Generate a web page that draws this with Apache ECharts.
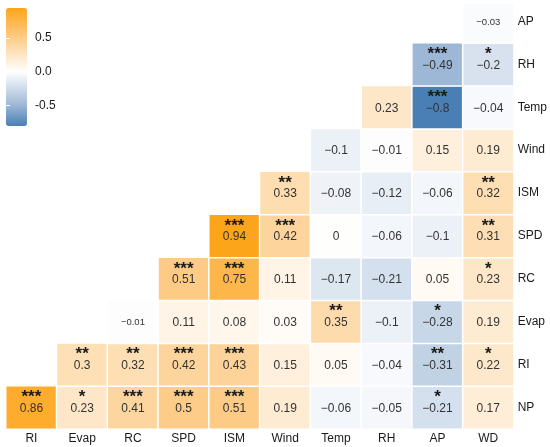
<!DOCTYPE html>
<html>
<head>
<meta charset="utf-8">
<script src="https://cdn.jsdelivr.net/npm/echarts@6/dist/echarts.min.js"></script>
<style>
  html, body { margin: 0; padding: 0; background: #fff; }
  #chart { width: 550px; height: 447px; }
</style>
</head>
<body>
<div id="chart"></div>
<script>
// column and row names (rows listed bottom to top)
const xLabels = ['RI', 'Evap', 'RC', 'SPD', 'ISM', 'Wind', 'Temp', 'RH', 'AP', 'WD'];
const yLabels = ['NP', 'RI', 'Evap', 'RC', 'SPD', 'ISM', 'Wind', 'Temp', 'RH', 'AP'];

// each row starts at the column with the same index as the row
const valuesNP   = [0.86, 0.23, 0.41, 0.5, 0.51, 0.19, -0.06, -0.05, -0.21, 0.17];
const starsNP    = ['***', '*', '***', '***', '***', '', '', '', '*', ''];
const valuesRI   = [0.3, 0.32, 0.42, 0.43, 0.15, 0.05, -0.04, -0.31, 0.22];
const starsRI    = ['**', '**', '***', '***', '', '', '', '**', '*'];
const valuesEvap = [-0.01, 0.11, 0.08, 0.03, 0.35, -0.1, -0.28, 0.19];
const starsEvap  = ['', '', '', '', '**', '', '*', ''];
const valuesRC   = [0.51, 0.75, 0.11, -0.17, -0.21, 0.05, 0.23];
const starsRC    = ['***', '***', '', '', '', '', '*'];
const valuesSPD  = [0.94, 0.42, 0, -0.06, -0.1, 0.31];
const starsSPD   = ['***', '***', '', '', '', '**'];
const valuesISM  = [0.33, -0.08, -0.12, -0.06, 0.32];
const starsISM   = ['**', '', '', '', '**'];
const valuesWind = [-0.1, -0.01, 0.15, 0.19];
const starsWind  = ['', '', '', ''];
const valuesTemp = [0.23, -0.8, -0.04];
const starsTemp  = ['', '***', ''];
const valuesRH   = [-0.49, -0.2];
const starsRH    = ['***', '*'];
const valuesAP   = [-0.03];
const starsAP    = [''];

// colour bar labels
const barTicks = [-0.5, 0, 0.5];

const rows = [
  [valuesNP, starsNP], [valuesRI, starsRI], [valuesEvap, starsEvap],
  [valuesRC, starsRC], [valuesSPD, starsSPD], [valuesISM, starsISM],
  [valuesWind, starsWind], [valuesTemp, starsTemp], [valuesRH, starsRH],
  [valuesAP, starsAP]
];

// cells whose number is printed smaller: [column, row]
const smallCells = ['2,2', '9,9'];

const cellData = [];
const starData = [];
rows.forEach(([vals, stars], r) => {
  vals.forEach((v, k) => {
    const c = r + k;
    cellData.push({ value: [c, r, v], small: smallCells.includes(c + ',' + r) });
    if (stars[k]) starData.push({ value: [c, r, v], stars: stars[k] });
  });
});

// colour scale anchors
const vMin = -0.8, vMax = 0.94;
const anchors = [
  [-0.8, [74, 127, 181]],
  [-0.49, [157, 184, 214]],
  [0, [255, 255, 255]],
  [0.51, [253, 203, 134]],
  [0.94, [253, 165, 26]]
];
function colorAt(v) {
  for (let i = 0; i < anchors.length - 1; i++) {
    const [a, ca] = anchors[i], [b, cb] = anchors[i + 1];
    if (v <= b || i === anchors.length - 2) {
      const t = Math.max(0, Math.min(1, (v - a) / (b - a)));
      const c = ca.map((x, j) => Math.round(x + (cb[j] - x) * t));
      return 'rgb(' + c.join(',') + ')';
    }
  }
}
const stops = [];
for (let i = 0; i <= 60; i++) stops.push(colorAt(vMin + (vMax - vMin) * i / 60));

const fmt = v => String(v).replace('-', '\u2212');
const font = 'Liberation Sans';

const chart = echarts.init(document.getElementById('chart'), null, { renderer: 'canvas' });

chart.setOption({
  animation: false,
  textStyle: { fontFamily: font },
  grid: [
    { left: 6, right: 31, top: -10, bottom: 18 },
    { left: 6, top: 8, width: 21, height: 118 }
  ],
  xAxis: [
    {
      type: 'category', data: xLabels, position: 'bottom',
      axisLine: { show: false }, axisTick: { show: false }, splitLine: { show: false },
      axisLabel: { fontSize: 12, color: '#1a1a1a', margin: 4, fontFamily: font }
    },
    { gridIndex: 1, type: 'value', show: false }
  ],
  yAxis: [
    {
      type: 'category', data: yLabels, position: 'right',
      axisLine: { show: false }, axisTick: { show: false }, splitLine: { show: false },
      axisLabel: { fontSize: 12, color: '#1a1a1a', margin: 4, fontFamily: font }
    },
    {
      gridIndex: 1, type: 'value', min: vMin, max: vMax, position: 'right', z: 10,
      axisLine: { show: false }, splitLine: { show: false },
      axisTick: { show: true, inside: true, length: 4, customValues: barTicks, lineStyle: { color: '#fff', width: 1 } },
      axisLabel: { customValues: barTicks, formatter: v => v.toFixed(1), margin: 8, fontSize: 12, color: '#1a1a1a', fontFamily: font }
    },
    {
      gridIndex: 1, type: 'value', min: vMin, max: vMax, position: 'left', z: 10,
      axisLine: { show: false }, splitLine: { show: false },
      axisTick: { show: true, inside: true, length: 4, customValues: barTicks, lineStyle: { color: '#fff', width: 1 } },
      axisLabel: { show: false }
    }
  ],
  visualMap: {
    type: 'continuous', min: vMin, max: vMax, seriesIndex: 0, dimension: 2,
    left: 6, top: 8, itemWidth: 21, itemHeight: 118, padding: 0,
    calculable: false, hoverLink: false, text: null, showLabel: false,
    inRange: { color: stops }
  },
  graphic: [
    { type: 'rect', z: 100, shape: { x: 0, y: 0, width: 550, height: 4 }, style: { fill: '#fff' } }
  ],
  series: [
    {
      type: 'heatmap',
      data: cellData,
      itemStyle: { borderColor: '#fff', borderWidth: 1.5 },
      emphasis: { disabled: true },
      label: {
        show: true,
        fontFamily: font,
        formatter: p => p.data.small ? '{vs|' + fmt(p.value[2]) + '}' : fmt(p.value[2]),
        fontSize: 12,
        color: '#333',
        offset: [0, 1],
        rich: { vs: { fontSize: 9.5, color: '#333', fontFamily: font } }
      }
    },
    {
      // significance stars sit above the number
      type: 'heatmap',
      data: starData,
      itemStyle: { color: 'rgba(0,0,0,0)', borderWidth: 0 },
      emphasis: { disabled: true },
      label: {
        show: true,
        formatter: p => p.data.stars,
        offset: [0, -10],
        fontFamily: font,
        fontSize: 17,
        fontWeight: 'bold',
        color: '#1a1a1a'
      }
    }
  ]
});
</script>
</body>
</html>
